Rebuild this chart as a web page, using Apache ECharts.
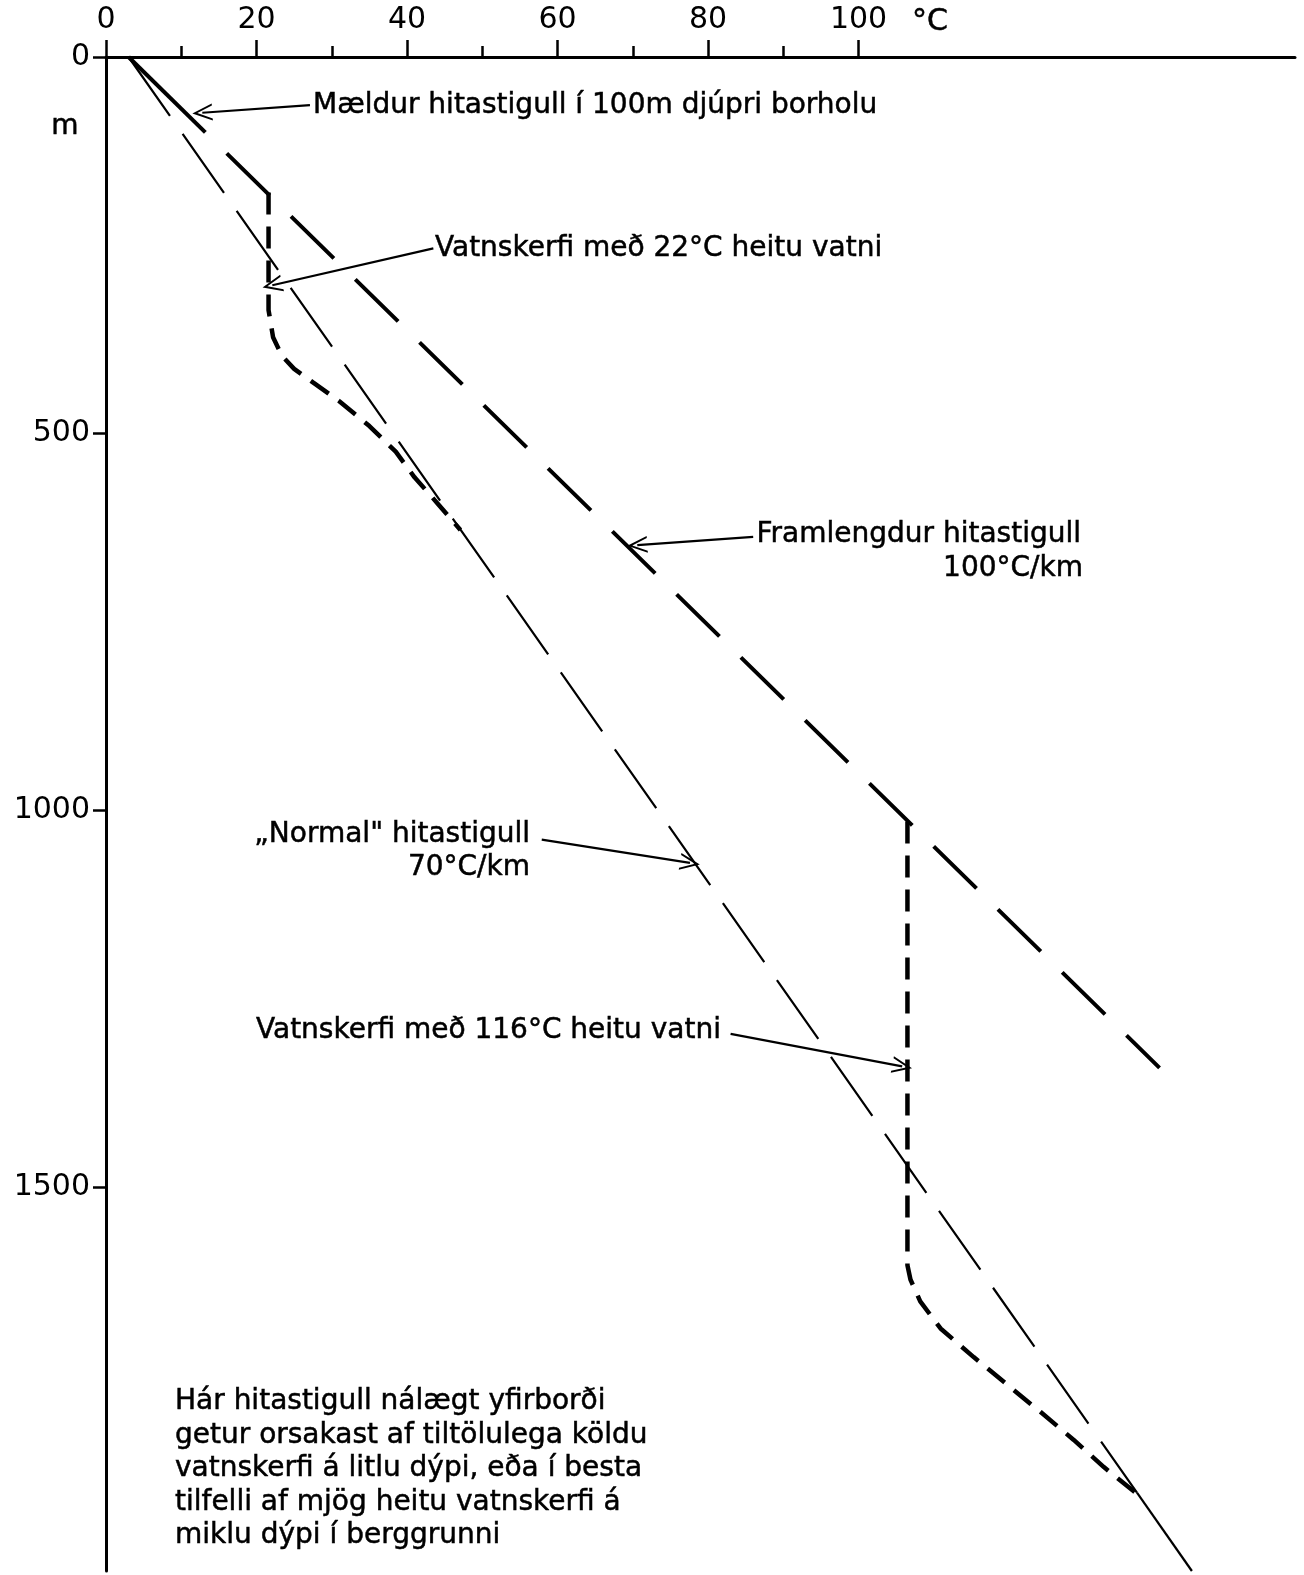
<!DOCTYPE html>
<html>
<head>
<meta charset="utf-8">
<script src="https://cdn.jsdelivr.net/npm/echarts@6/dist/echarts.min.js"></script>
<style>
  html, body { margin: 0; padding: 0; background: #fff; }
  #chart { width: 1304px; height: 1575px; }
</style>
</head>
<body>
<div id="chart"></div>
<script>
// temperature axis (°C) and depth axis (m)
const tempMajorTicks = [0, 20, 40, 60, 80, 100];
const tempMinorTicks = [10, 30, 50, 70, 90];
const depthTicks = [0, 500, 1000, 1500];

// [temperature, depth]
const measured = [[3, 0], [13.2, 100]];
const extended = [[13.2, 100], [140, 1342]];
const normalDashed = [[3, 0], [137, 1906]];
const normalSolid = [[137, 1906], [144.3, 2010]];
const aquifer22 = [
  [21.6, 180], [21.6, 336], [22.2, 372], [23.4, 397], [25, 414], [27.5, 432],
  [31, 457], [35, 490], [38.5, 524], [41, 558], [44, 592], [47.1, 628]
];
const aquifer116 = [
  [106.5, 1015], [106.5, 1604], [106.9, 1623], [108.2, 1652], [110.9, 1688],
  [115.3, 1726], [119.8, 1763], [124.2, 1799], [128.6, 1836], [132.6, 1872], [136.8, 1906]
];

// arrows: [fromTemp, fromDepth, toTemp, toDepth]
const arrows = [
  [27.1, 64, 12.8, 74],
  [43.5, 254, 22.1, 303],
  [86, 637, 70.6, 648],
  [57.9, 1039, 77.6, 1070],
  [83, 1297, 105.8, 1340]
];

const note = [
  'Hár hitastigull nálægt yfirborði',
  'getur orsakast af tiltölulega köldu',
  'vatnskerfi á litlu dýpi, eða í besta',
  'tilfelli af mjög heitu vatnskerfi á',
  'miklu dýpi í berggrunni'
];

const FONT = '"DejaVu Sans", sans-serif';
const txt = (text, x, y, align, size) => ({
  type: 'text',
  x, y,
  style: {
    text, fill: '#000', stroke: '#000', lineWidth: 0.5,
    align: align || 'left', verticalAlign: 'middle',
    font: (size || 28) + 'px ' + FONT
  }
});

const chevron = 'path://M0,20 L10,0 L20,20 L17.6,20 L10,5 L2.4,20 Z';

const lineSeries = (data, width, dash, offset) => ({
  type: 'line',
  data,
  symbol: 'none',
  silent: true,
  animation: false,
  lineStyle: {
    color: '#000',
    width,
    type: dash || 'solid',
    dashOffset: offset || 0,
    cap: 'butt'
  }
});

const chart = echarts.init(document.getElementById('chart'));
chart.setOption({
  animation: false,
  backgroundColor: '#fff',
  grid: { left: 106, top: 57, width: 1189, height: 1514 },
  xAxis: [
    {
      type: 'value', position: 'top', min: 0, max: 158,
      axisLine: { show: true, lineStyle: { color: '#000', width: 3 } },
      axisTick: { show: true, customValues: tempMajorTicks, length: 17, lineStyle: { color: '#000', width: 2.5 } },
      axisLabel: { customValues: tempMajorTicks, margin: 22, color: '#000', fontSize: 30, fontFamily: FONT },
      splitLine: { show: false }
    },
    {
      type: 'value', position: 'top', min: 0, max: 158,
      axisLine: { show: false },
      axisTick: { show: true, customValues: tempMinorTicks, length: 11, lineStyle: { color: '#000', width: 2.5 } },
      axisLabel: { show: false },
      splitLine: { show: false }
    }
  ],
  yAxis: {
    type: 'value', inverse: true, min: 0, max: 2010,
    axisLine: { show: true, lineStyle: { color: '#000', width: 3 } },
    axisTick: { show: true, customValues: depthTicks, length: 13, lineStyle: { color: '#000', width: 2.5 } },
    axisLabel: {
      customValues: depthTicks, margin: 16, color: '#000', fontSize: 30, fontFamily: FONT,
      formatter: v => String(v)
    },
    splitLine: { show: false }
  },
  series: [
    lineSeries(normalDashed, 2.2, [72, 22]),
    lineSeries(normalSolid, 2.2),
    lineSeries(extended, 4, [60, 30], 60),
    lineSeries(measured, 4),
    lineSeries(aquifer22, 4.5, [22, 12]),
    lineSeries(aquifer116, 4.5, [22, 12]),
    {
      type: 'line',
      data: [],
      markLine: {
        silent: true,
        animation: false,
        symbol: ['none', chevron],
        symbolSize: [17, 20],
        label: { show: false },
        lineStyle: { color: '#000', width: 2.2, type: 'solid' },
        data: arrows.map(a => [{ coord: [a[0], a[1]] }, { coord: [a[2], a[3]] }])
      }
    }
  ],
  graphic: [
    txt('°C', 930, 22, 'center', 30),
    txt('m', 65, 127, 'center'),
    txt('Mældur hitastigull í 100m djúpri borholu', 313, 106),
    txt('Vatnskerfi með 22°C heitu vatni', 435, 249),
    txt('Framlengdur hitastigull', 1081, 535, 'right'),
    txt('100°C/km', 1083, 569, 'right'),
    txt('„Normal" hitastigull', 530, 835, 'right'),
    txt('70°C/km', 530, 868, 'right'),
    txt('Vatnskerfi með 116°C heitu vatni', 256, 1031)
  ].concat(note.map((line, i) => txt(line, 175, 1402 + i * 33.5)))
});
</script>
</body>
</html>
